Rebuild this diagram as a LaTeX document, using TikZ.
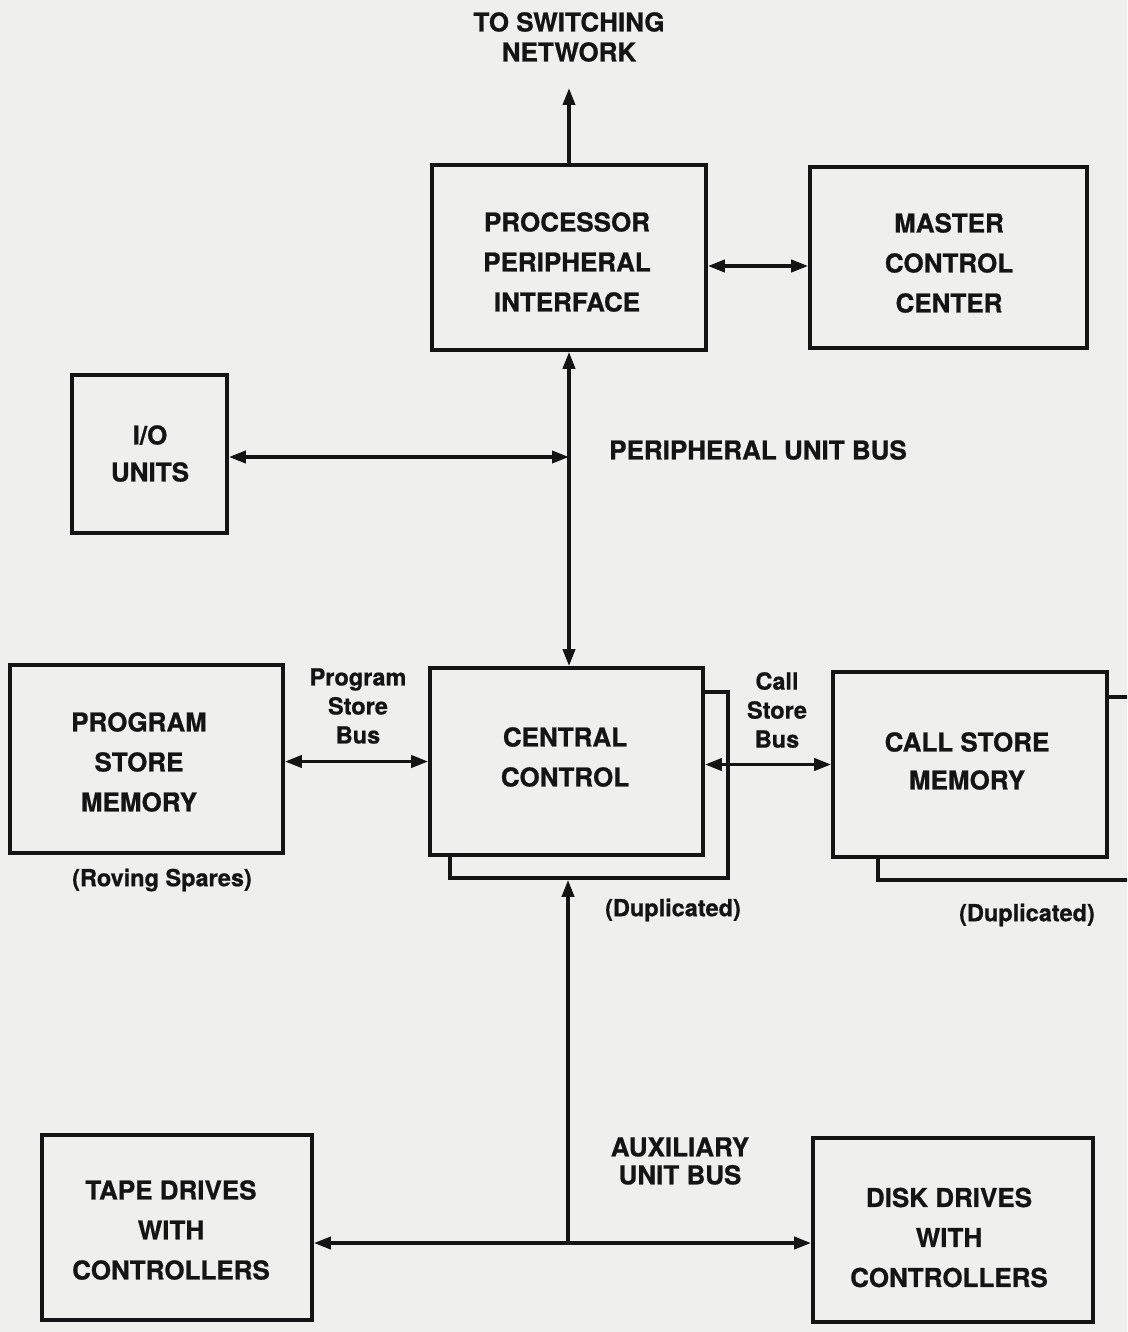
\documentclass[tikz,border=0pt]{standalone}
\usepackage{fontspec}
\setmainfont{TeX Gyre Heros}[BoldFeatures={FakeBold=0.8}]
\usetikzlibrary{arrows.meta}
\definecolor{paper}{HTML}{EFEFED}
\definecolor{ink}{HTML}{141414}
\begin{document}
\begin{tikzpicture}[x=1pt,y=-1pt,
  >={Triangle[length=17pt,width=12pt]},
  box/.style={draw=ink, fill=paper, line width=3.6pt, inner sep=0pt},
  boxtext/.style={inner sep=0pt, align=center, text=ink, font=\fontsize{26}{40}\selectfont\bfseries},
  lbl/.style={inner sep=0pt, align=center, text=ink, font=\fontsize{26}{30}\selectfont\bfseries},
  sml/.style={inner sep=0pt, align=center, text=ink, font=\fontsize{23.5}{29}\selectfont\bfseries},
  conn/.style={draw=ink, line width=3.6pt}
]
\clip (0,0) rectangle (1127,1332);
\fill[paper] (0,0) rectangle (1127,1332);

% boxes
\node[box, minimum width=274pt, minimum height=185pt] (ppi) at (569,257.5) {};
\node[box, minimum width=277pt, minimum height=181pt] (mcc) at (948.5,257.5) {};
\node[box, minimum width=155pt, minimum height=158pt] (io) at (149.5,454) {};
\node[box, minimum width=273pt, minimum height=188pt] (psm) at (146.5,759) {};
\node[box, minimum width=278pt, minimum height=186pt] (ccb) at (589,785) {};
\node[box, minimum width=273pt, minimum height=187pt] (cc) at (566.5,761.5) {};
\node[box, minimum width=272pt, minimum height=183pt] (csb) at (1014,788.5) {};
\node[box, minimum width=274pt, minimum height=185pt] (csm) at (970,764.5) {};
\node[box, minimum width=270pt, minimum height=185pt] (tape) at (177,1227.5) {};
\node[box, minimum width=280pt, minimum height=184pt] (disk) at (953,1230) {};

% box texts
\node[boxtext] (ppit) at (567,262) {PROCESSOR\\PERIPHERAL\\INTERFACE};
\node[boxtext] (mcct) at (949,263) {MASTER\\CONTROL\\CENTER};
\node[boxtext, font=\fontsize{26}{37}\selectfont\bfseries] (iot) at (150,453.5) {I/O\\UNITS};
\node[boxtext] (psmt) at (139,762) {PROGRAM\\STORE\\MEMORY};
\node[boxtext] (cct) at (565,757) {CENTRAL\\CONTROL};
\node[boxtext, font=\fontsize{26}{38}\selectfont\bfseries] (csmt) at (967,761) {CALL STORE\\MEMORY};
\node[boxtext] (tapet) at (171,1230) {TAPE DRIVES\\WITH\\CONTROLLERS};
\node[boxtext] (diskt) at (949,1237.5) {DISK DRIVES\\WITH\\CONTROLLERS};

% labels
\node[lbl] (tsn) at (569,37) {TO SWITCHING\\NETWORK};
\node[lbl] (pub) at (758,450) {PERIPHERAL UNIT BUS};
\node[sml] (psbl) at (358,706) {Program\\Store\\Bus};
\node[sml] (csbl) at (777,710) {Call\\Store\\Bus};
\node[sml] (dup1) at (673,910) {(Duplicated)};
\node[sml] (dup2) at (1027,915) {(Duplicated)};
\node[sml] (rov) at (162,880) {(Roving Spares)};
\node[lbl, font=\fontsize{26}{28}\selectfont\bfseries] (aux) at (680,1161) {AUXILIARY\\UNIT BUS};

% coordinates
\coordinate (tsnend) at (569,88);
\coordinate (busx) at (569,0);
\coordinate (jio) at (569,457);
\coordinate (jaux) at (568,1243);

% connectors
\draw[conn,->] (busx |- ppi.north) -- (tsnend);
\draw[conn,<->] ([yshift=-8.5pt]ppi.east) -- ([yshift=-8.5pt]ppi.east -| mcc.west);
\draw[conn,<->] (busx |- cc.north) -- (busx |- ppi.south);
\draw[conn,<->] (io.east |- jio) -- (jio);
\draw[conn,<->] (psm.east |- cc.west) -- (cc.west);
\draw[conn,<->] (cc.east |- csm.west) -- (csm.west);
\draw[conn,->] (jaux) -- (jaux |- ccb.south);
\draw[conn,<->] (tape.east |- jaux) -- (disk.west |- jaux);
\end{tikzpicture}
\end{document}
